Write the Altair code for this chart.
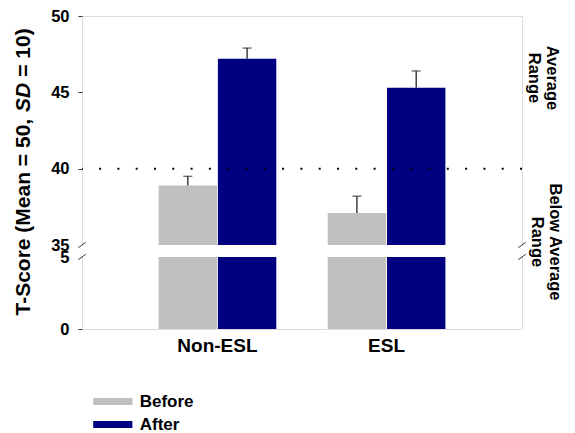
import altair as alt
import pandas as pd

# Scores before and after, by student group
groups = ["Non-ESL", "ESL"]
phases = ["Before", "After"]
before_scores = [38.9, 37.1]
after_scores = [47.2, 45.3]
before_upper = [39.5, 38.2]   # mean + error bar
after_upper = [47.9, 46.4]
phase_colors = ["#C0C0C0", "#000080"]
y_ticks = [0, 5, 35, 40, 45, 50]
range_labels = ["Average\nRange", "Below Average\nRange"]
cutoff = 40

rows = []
for i, g in enumerate(groups):
    rows.append({"group": g, "phase": "Before", "score": before_scores[i], "upper": before_upper[i]})
    rows.append({"group": g, "phase": "After", "score": after_scores[i], "upper": after_upper[i]})
df = pd.DataFrame(rows)

W, H = 440, 313
FONT = "Liberation Sans"

# broken y axis: 0-5 at the bottom, 35-50 above, a small gap in between
y_scale = alt.Scale(domain=[0, 5, 35, 50], range=[H, H - 72, H - 84, 0], nice=False, zero=False)

x_enc = alt.X(
    "group:N", sort=groups,
    scale=alt.Scale(paddingInner=0.304, paddingOuter=0.453),
    axis=alt.Axis(title=None, labelFont=FONT, labelFontSize=19, labelFontWeight="bold",
                  labelColor="black", ticks=False, domain=False, labelPadding=7, labelAngle=0),
)
xoff_enc = alt.XOffset("phase:N", sort=phases, scale=alt.Scale(paddingInner=0.015))

base = alt.Chart(df)

bars = base.mark_bar().encode(
    x=x_enc,
    xOffset=xoff_enc,
    y=alt.Y(
        "score:Q", scale=y_scale,
        axis=alt.Axis(values=y_ticks, title=None, labelFont=FONT, labelFontSize=16.5,
                      labelFontWeight="bold", labelColor="black", tickSize=4, tickColor="#333",
                      tickOpacity={"condition": {"test": "datum.value == 5 || datum.value == 35", "value": 0}, "value": 1},
                      domain=False, grid=False, labelPadding=9, labelOverlap=False, labelBound=False),
    ),
    y2=alt.datum(0),
    color=alt.Color(
        "phase:N", sort=phases,
        scale=alt.Scale(domain=phases, range=phase_colors),
        legend=alt.Legend(
            title=None, orient="none", legendX=9.7, legendY=377, padding=0,
            symbolType="M-1,-0.5L4.6,-0.5L4.6,0.5L-1,0.5Z", symbolSize=196,
            symbolStrokeWidth=0, labelOffset=31, rowPadding=5,
            labelFont=FONT, labelFontSize=17, labelFontWeight="bold", labelColor="black",
        ),
    ),
)

one = pd.DataFrame({"k": [0]})

# white band that cuts the bars and the frame at the axis break
gap = alt.Chart(one).mark_rect(color="white").encode(
    x=alt.value(-6), x2=alt.value(W + 6), y=alt.datum(35), y2=alt.datum(5)
)

slashes = []
for edge in (0, W):
    for v in (35, 5):
        slashes.append(
            alt.Chart(one).mark_rule(color="#333", strokeWidth=1, yOffset=2.7, y2Offset=-2.7).encode(
                x=alt.value(edge - 3.7), x2=alt.value(edge + 3.7), y=alt.datum(v), y2=alt.datum(v)
            )
        )

dotted = alt.Chart(one).mark_rule(color="black", strokeWidth=2, strokeDash=[2, 16.3]).encode(
    y=alt.datum(cutoff)
)

err_rule = base.mark_rule(color="#222", strokeWidth=1.3).encode(
    x=x_enc, xOffset=xoff_enc, y="score:Q", y2="upper:Q"
)
err_cap = base.mark_tick(color="#222", thickness=1.3, size=9).encode(
    x=x_enc, xOffset=xoff_enc, y="upper:Q"
)

# range annotations on the right
notes = []
for label, (px, py) in zip(range_labels, [(470, 62), (473, 226)]):
    notes.append(
        alt.Chart(pd.DataFrame({"t": [label]})).mark_text(
            angle=90, align="center", baseline="middle", lineBreak="\n", lineHeight=18,
            font=FONT, fontSize=16.5, fontWeight="bold", color="black",
        ).encode(text="t:N", x=alt.value(px), y=alt.value(py))
    )

# y title with italic SD
title_parts = [("T-Score (Mean = 50,", "normal", 299.5), ("SD", "italic", 95.9), ("= 10)", "normal", 60.8)]
titles = []
for txt, style, py in title_parts:
    titles.append(
        alt.Chart(pd.DataFrame({"t": [txt]})).mark_text(
            angle=270, align="left", baseline="alphabetic",
            font=FONT, fontSize=21, fontWeight="bold", fontStyle=style, color="black",
        ).encode(text="t:N", x=alt.value(-52), y=alt.value(py))
    )

chart = alt.layer(bars, gap, *slashes, dotted, err_rule, err_cap, *notes, *titles).properties(
    width=W, height=H,
    autosize=alt.AutoSizeParams(type="none"),
    padding={"left": 82, "top": 16, "right": 53, "bottom": 104},
).configure_view(stroke="#333", strokeWidth=1).configure(background="white")

chart.save("out.html", embed_options={"renderer": "svg", "actions": False})
